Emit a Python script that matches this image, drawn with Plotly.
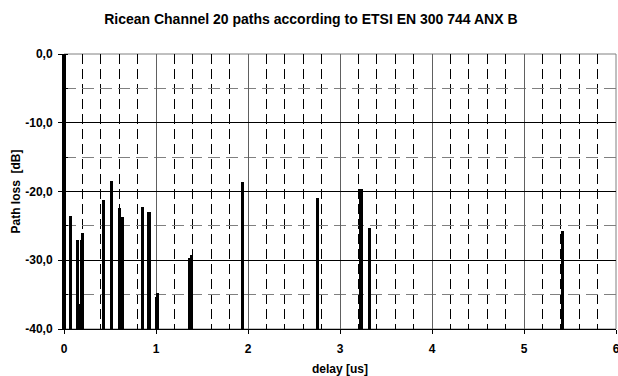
import plotly.graph_objects as go

# Ricean channel (ETSI EN 300 744 Annex B): delay [us] and relative path loss [dB]
delay_us = [0.0, 1.003019, 5.422091, 0.518650, 2.751772, 0.602895, 1.016585,
            0.143556, 0.153832, 3.324866, 1.935570, 0.429948, 3.228872,
            0.848831, 0.073883, 0.203952, 0.194207, 0.924450, 1.381320,
            0.640512, 1.368671]
path_loss_db = [0.0, -35.4, -25.7, -18.4, -21.0, -22.4, -34.8,
                -27.1, -36.4, -25.3, -18.6, -21.2, -19.7,
                -22.2, -23.5, -26.0, -27.1, -23.0, -29.3,
                -23.7, -29.7]

floor_db = -40.0
y_tickvals = [-40, -30, -20, -10, 0]
y_ticktext = ["-40,0", "-30,0", "-20,0", "-10,0", "0,0"]
x_tickvals = [0, 1, 2, 3, 4, 5, 6]
x_ticktext = ["0", "1", "2", "3", "4", "5", "6"]

FONT = "Liberation Sans, Arial, sans-serif"

fig = go.Figure()
fig.add_trace(go.Bar(
    x=delay_us,
    y=[v - floor_db for v in path_loss_db],
    base=floor_db,
    width=0.034,
    marker=dict(color="black", line=dict(width=0)),
    showlegend=False,
))

fig.update_layout(
    width=618, height=376,
    margin=dict(l=64, r=2, t=54, b=47, autoexpand=False),
    paper_bgcolor="white", plot_bgcolor="white",
    font=dict(family=FONT, size=12, color="black"),
    title=dict(
        text="Ricean Channel 20 paths according to ETSI EN 300 744 ANX B",
        font=dict(family=FONT, size=14, color="black", weight="bold"),
        x=0.503, xanchor="center", y=0.95, yanchor="middle",
    ),
    bargap=0,
    shapes=[dict(type="rect", xref="paper", yref="paper", x0=0, x1=1, y0=0, y1=1,
                 line=dict(color="#808080", width=1), layer="below")],
    annotations=[
        dict(text="delay [us]", xref="paper", yref="paper", x=0.5, y=0,
             xanchor="center", yanchor="middle", yshift=-40, showarrow=False,
             font=dict(family=FONT, size=12, weight="bold")),
        dict(text="Path loss\u00a0 [dB]", xref="paper", yref="paper", x=0, y=0.5,
             xanchor="center", yanchor="middle", xshift=-49, textangle=-90,
             showarrow=False, font=dict(family=FONT, size=12, weight="bold")),
    ],
)

fig.update_xaxes(
    range=[0, 6], tickvals=x_tickvals, ticktext=x_ticktext,
    tickfont=dict(family=FONT, size=12, weight="bold"),
    ticks="outside", ticklen=4, tickcolor="black", ticklabelstandoff=5,
    ticklabeloverflow="allow", automargin=False,
    showline=True, linecolor="black", linewidth=1,
    showgrid=True, gridcolor="#606060", gridwidth=1,
    minor=dict(dtick=0.2, showgrid=True, gridcolor="black", gridwidth=1,
               griddash="10px,5px", ticks=""),
    zeroline=False, fixedrange=True,
)
fig.update_yaxes(
    range=[-40, 0], tickvals=y_tickvals, ticktext=y_ticktext,
    tickfont=dict(family=FONT, size=12, weight="bold"),
    ticks="outside", ticklen=4, tickcolor="black", ticklabelstandoff=3,
    automargin=False,
    showline=True, linecolor="black", linewidth=2,
    showgrid=True, gridcolor="black", gridwidth=1,
    minor=dict(dtick=5, showgrid=True, gridcolor="#808080", gridwidth=1,
               griddash="12px,6px", ticks="inside", ticklen=4, tickcolor="black"),
    zeroline=False, fixedrange=True,
)

fig.write_html("out.html")
